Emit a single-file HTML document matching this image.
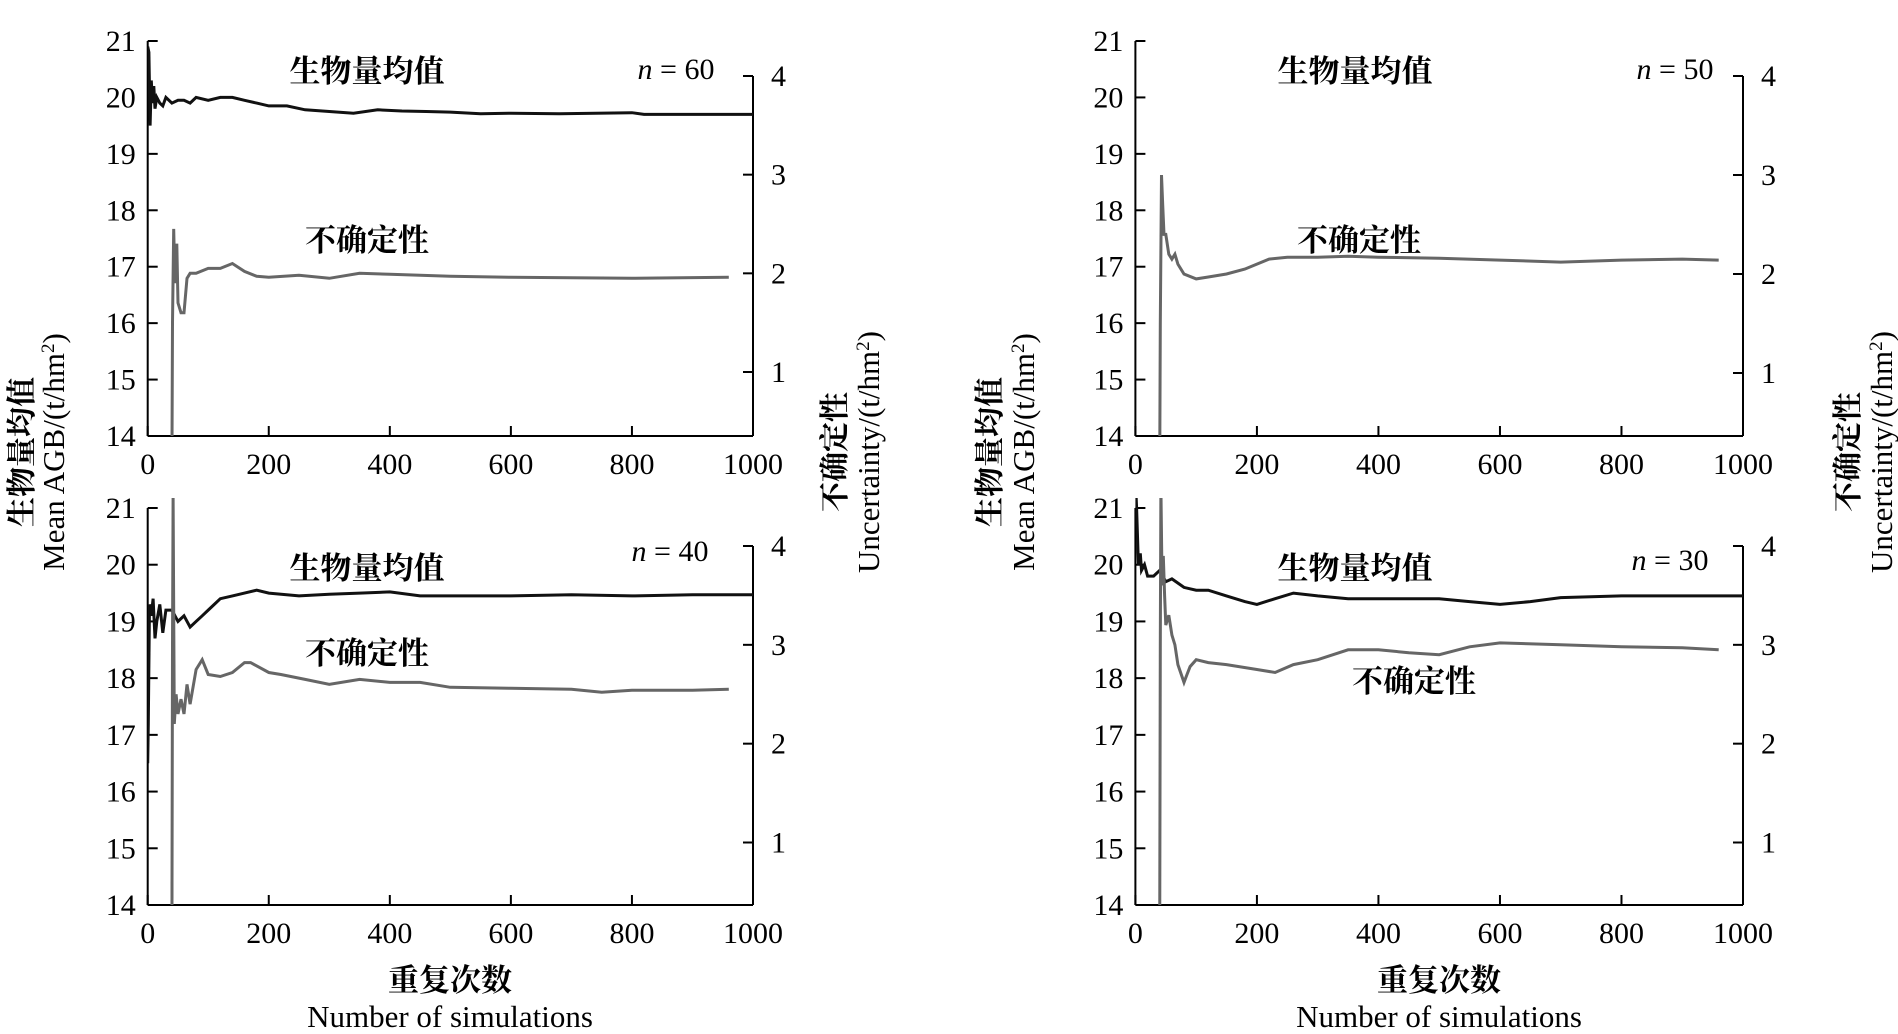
<!DOCTYPE html>
<html><head><meta charset="utf-8">
<style>
html,body{margin:0;padding:0;background:#fff;}
svg text{font-family:"Liberation Serif","Noto Serif CJK SC",serif;fill:#000;}
.cjk{font-family:"Liberation Serif","Noto Serif CJK SC",serif;font-weight:bold;}
</style></head>
<body>
<svg id="chart" width="1898" height="1029" viewBox="0 0 1898 1029" xmlns="http://www.w3.org/2000/svg"></svg>
<script>
const xTicks = [0,200,400,600,800,1000];
const leftTicks = [14,15,16,17,18,19,20,21];
const rightTicks = [1,2,3,4];

const n60MeanX = [0,2,4,6,8,10,12,15,20,25,30,40,50,60,70,80,100,120,140,160,180,200,230,260,300,340,380,420,460,500,550,600,680,800,820,1000];
const n60MeanY = [20.9,20.8,19.5,20.3,19.9,20.2,19.8,20.0,19.9,19.85,20.0,19.9,19.95,19.95,19.9,20.0,19.95,20.0,20.0,19.95,19.9,19.85,19.85,19.78,19.75,19.72,19.78,19.76,19.75,19.74,19.71,19.72,19.71,19.73,19.7,19.7];
const n60UncX = [40,41,43,45,48,50,55,60,65,70,80,100,120,140,160,180,200,250,300,350,400,500,600,800,960];
const n60UncY = [0,1.5,2.45,1.9,2.3,1.7,1.6,1.6,1.95,2.0,2.0,2.05,2.05,2.1,2.02,1.97,1.96,1.98,1.95,2.0,1.99,1.97,1.96,1.95,1.96];

const n50UncX = [40,41,43,45,47,50,55,60,65,70,80,100,120,150,180,200,220,250,300,350,400,500,600,700,800,900,960];
const n50UncY = [0,1.5,3.0,2.7,2.4,2.4,2.2,2.15,2.2,2.1,2.0,1.95,1.97,2.0,2.05,2.1,2.15,2.17,2.17,2.18,2.17,2.16,2.14,2.12,2.14,2.15,2.14];

const n40MeanX = [0,1,3,6,9,12,15,20,25,30,40,50,60,70,80,90,100,110,120,140,160,180,200,250,300,350,400,450,500,600,700,800,900,1000];
const n40MeanY = [16.5,17.2,19.3,19.1,19.4,18.7,19.0,19.3,18.8,19.2,19.2,19.0,19.1,18.9,19.0,19.1,19.2,19.3,19.4,19.45,19.5,19.55,19.5,19.45,19.48,19.5,19.52,19.45,19.45,19.45,19.47,19.45,19.47,19.47];
const n40UncX = [40,41,42,44,47,50,55,60,65,70,80,90,100,120,140,160,170,200,220,260,300,350,400,450,500,600,700,750,800,900,960];
const n40UncY = [0,3,4.5,2.2,2.5,2.3,2.45,2.3,2.6,2.4,2.75,2.85,2.7,2.68,2.72,2.82,2.82,2.72,2.7,2.65,2.6,2.65,2.62,2.62,2.57,2.56,2.55,2.52,2.54,2.54,2.55];

const n30MeanX = [0,2,5,8,10,15,20,30,40,50,60,80,100,120,150,180,200,230,260,300,350,400,450,500,550,600,650,700,800,900,1000];
const n30MeanY = [21.5,21.0,20.0,20.2,19.9,20.0,19.8,19.8,19.9,19.7,19.75,19.6,19.55,19.55,19.45,19.35,19.3,19.4,19.5,19.45,19.4,19.4,19.4,19.4,19.35,19.3,19.35,19.42,19.45,19.45,19.45];
const n30UncX = [40,41,42,44,46,48,50,55,60,65,70,80,85,90,100,120,150,200,230,260,300,350,400,450,500,550,600,700,800,900,960];
const n30UncY = [0,3,4.6,3.6,3.9,3.5,3.2,3.3,3.1,3.0,2.8,2.62,2.7,2.78,2.85,2.82,2.8,2.75,2.72,2.8,2.85,2.95,2.95,2.92,2.9,2.98,3.02,3.0,2.98,2.97,2.95];

const svg = document.getElementById('chart');
const NS = 'http://www.w3.org/2000/svg';
function mk(tag, attrs, parent, text){
  const e = document.createElementNS(NS, tag);
  for (const k in attrs) e.setAttribute(k, attrs[k]);
  if (text !== undefined) e.textContent = text;
  parent.appendChild(e);
  return e;
}

const panels = [
  {id:'n60', x0:147.7, x1:753, yTop:41, yBot:436, r4:76, r1:372, meanX:n60MeanX, meanY:n60MeanY, uncX:n60UncX, uncY:n60UncY,
   nLabel:'60', nx:676, ny:79, mx:367, my:82, ux:367, uy:251},
  {id:'n50', x0:1135.4, x1:1743, yTop:41, yBot:436, r4:76, r1:373, meanX:null, meanY:null, uncX:n50UncX, uncY:n50UncY,
   nLabel:'50', nx:1675, ny:79, mx:1355, my:82, ux:1359, uy:251},
  {id:'n40', x0:147.7, x1:753, yTop:508, yBot:905, r4:546, r1:842.5, meanX:n40MeanX, meanY:n40MeanY, uncX:n40UncX, uncY:n40UncY,
   nLabel:'40', nx:670, ny:561, mx:367, my:579, ux:367, uy:664},
  {id:'n30', x0:1135.4, x1:1743, yTop:508, yBot:905, r4:546, r1:842.5, meanX:n30MeanX, meanY:n30MeanY, uncX:n30UncX, uncY:n30UncY,
   nLabel:'30', nx:1670, ny:570, mx:1355, my:579, ux:1414, uy:692}
];

panels.forEach(function(p){
  const g = mk('g', {}, svg);
  
  
  const xs = v => p.x0 + (p.x1 - p.x0) * v / 1000;
  const yl = v => p.yBot - (p.yBot - p.yTop) * (v - 14) / 7;
  const runit = (p.r1 - p.r4) / 3;
  const yr = v => p.r1 - (v - 1) * runit;

  const clipId = 'clip-' + p.id;
  const cp = mk('clipPath', {id: clipId}, g);
  mk('rect', {x:p.x0, y:p.yTop - 10, width:p.x1 - p.x0, height:p.yBot - p.yTop + 10}, cp);

  const la = mk('line', {x1:p.x0, y1:p.yTop, x2:p.x0, y2:p.yBot, stroke:'#000', 'stroke-width':2}, g);
   
  const ba = mk('line', {x1:p.x0, y1:p.yBot, x2:p.x1, y2:p.yBot, stroke:'#000', 'stroke-width':2}, g);
   
  const ra = mk('line', {x1:p.x1, y1:yr(4), x2:p.x1, y2:p.yBot, stroke:'#000', 'stroke-width':2}, g);
   

  leftTicks.forEach(function(t){
    const y = yl(t);
    mk('line', {x1:p.x0, y1:y, x2:p.x0 + 10, y2:y, stroke:'#000', 'stroke-width':2}, g);
    const tx = mk('text', {x:p.x0 - 12, y:y + 10, 'font-size':30, 'text-anchor':'end'}, g, String(t));
     
  });
  rightTicks.forEach(function(t){
    const y = yr(t);
    mk('line', {x1:p.x1, y1:y, x2:p.x1 - 10, y2:y, stroke:'#000', 'stroke-width':2}, g);
    const tx = mk('text', {x:p.x1 + 18, y:y + 10, 'font-size':30, 'text-anchor':'start'}, g, String(t));
     
  });
  xTicks.forEach(function(t){
    const x = xs(t);
    mk('line', {x1:x, y1:p.yBot, x2:x, y2:p.yBot - 10, stroke:'#000', 'stroke-width':2}, g);
    const tx = mk('text', {x:x, y:p.yBot + 38, 'font-size':30, 'text-anchor':'middle'}, g, String(t));
     
  });

  if (p.meanX){
    let d = '';
    p.meanX.forEach(function(v, i){ d += (i ? 'L' : 'M') + xs(v).toFixed(1) + ',' + yl(p.meanY[i]).toFixed(1); });
    const mp = mk('path', {d:d, fill:'none', stroke:'#111', 'stroke-width':3, 'clip-path':'url(#' + clipId + ')'}, g);
     
  }
  let du = '';
  p.uncX.forEach(function(v, i){ du += (i ? 'L' : 'M') + xs(v).toFixed(1) + ',' + yr(p.uncY[i]).toFixed(1); });
  const up = mk('path', {d:du, fill:'none', stroke:'#666', 'stroke-width':3, 'clip-path':'url(#' + clipId + ')'}, g);
   

  const ml = mk('text', {x:p.mx, y:p.my, 'font-size':31, 'text-anchor':'middle', class:'cjk'}, g, '生物量均值');
   
  const ul = mk('text', {x:p.ux, y:p.uy, 'font-size':31, 'text-anchor':'middle', class:'cjk'}, g, '不确定性');
   
  const nl = mk('text', {x:p.nx, y:p.ny, 'font-size':30, 'text-anchor':'middle'}, g);
   
  mk('tspan', {'font-style':'italic'}, nl, 'n');
  mk('tspan', {}, nl, ' = ' + p.nLabel);
});

[450, 1439].forEach(function(cx){
  const t1 = mk('text', {x:cx, y:991, 'font-size':31, 'text-anchor':'middle', class:'cjk'}, svg, '重复次数');
   
  const t2 = mk('text', {x:cx, y:1027, 'font-size':31, 'text-anchor':'middle'}, svg, 'Number of simulations');
   
});
function vtitle(x1, x2, l1, l2, name){
  const a = mk('text', {transform:'translate(' + x1 + ',452) rotate(-90)', 'font-size':30, 'text-anchor':'middle', class:'cjk'}, svg, l1);
   
  const b = mk('text', {transform:'translate(' + x2 + ',452) rotate(-90)', 'font-size':31, 'text-anchor':'middle'}, svg);
   
  mk('tspan', {}, b, l2);
  mk('tspan', {'baseline-shift':'super', 'font-size':19}, b, '2');
  mk('tspan', {}, b, ')');
}
vtitle(32, 64, '生物量均值', 'Mean AGB/(t/hm', 'left-y-axis-title');
vtitle(1000, 1034, '生物量均值', 'Mean AGB/(t/hm', 'left-y-axis-title-right-panel');
vtitle(845, 879, '不确定性', 'Uncertainty/(t/hm', 'right-y-axis-title');
vtitle(1858, 1892, '不确定性', 'Uncertainty/(t/hm', 'right-y-axis-title-right-panel');
</script>
</body></html>
